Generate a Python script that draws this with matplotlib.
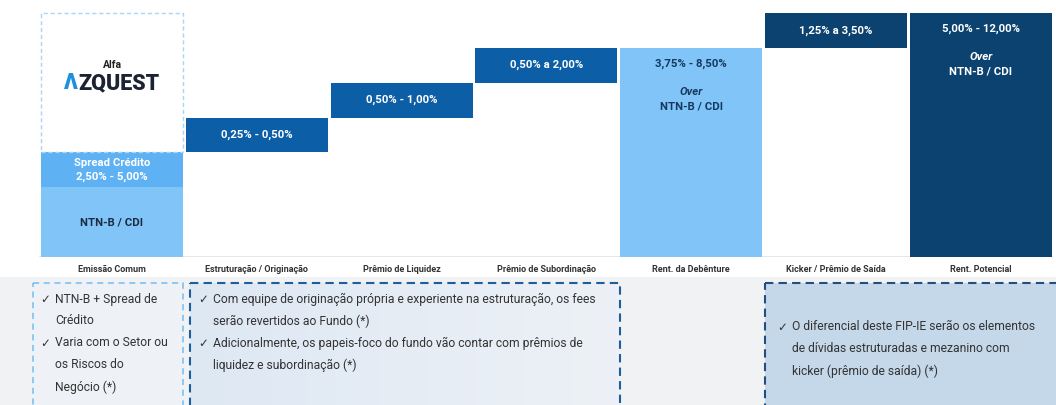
import matplotlib.pyplot as plt
import numpy as np
from matplotlib.patches import Rectangle

plt.rcParams['font.family'] = ['Roboto', 'DejaVu Sans']

# dados
categorias = ['Emissão Comum', 'Estruturação / Originação', 'Prêmio de Liquidez',
              'Prêmio de Subordinação', 'Rent. da Debênture', 'Kicker / Prêmio de Saída',
              'Rent. Potencial']
base = [0, 3, 4, 5, 0, 6, 0]
altura = [2, 1, 1, 1, 6, 1, 7]
spread = 1
rotulos = ['NTN-B / CDI', '0,25% - 0,50%', '0,50% - 1,00%', '0,50% a 2,00%',
           '3,75% - 8,50%', '1,25% a 3,50%', '5,00% - 12,00%']
cores = ['#80c4f8', '#0c5ea6', '#0c5ea6', '#0c5ea6', '#80c4f8', '#0b426f', '#0b426f']

texto_box1 = [(True, 'NTN-B + Spread de'), (False, 'Crédito'), (True, 'Varia com o Setor ou'),
              (False, 'os Riscos do'), (False, 'Negócio (*)')]
texto_box2 = [(True, 'Com equipe de originação própria e experiente na estruturação, os fees'),
              (False, 'serão revertidos ao Fundo (*)'),
              (True, 'Adicionalmente, os papeis-foco do fundo vão contar com prêmios de'),
              (False, 'liquidez e subordinação (*)')]
texto_box3 = [(True, 'O diferencial deste FIP-IE serão os elementos'),
              (False, 'de dívidas estruturadas e mezanino com'),
              (False, 'kicker (prêmio de saída) (*)')]

px = 34.86  # pixels por unidade
fig = plt.figure(figsize=(10.56, 4.05), dpi=100)
ax = fig.add_axes([0, 148/405, 1, 257/405])
x = np.arange(len(categorias))

ax.bar(x, altura, bottom=base, width=0.98, color=cores, zorder=2)
ax.bar(0, spread, bottom=altura[0], width=0.98, color='#5eb1f2', zorder=2)
ax.bar(0, 4, bottom=altura[0] + spread, width=0.98, fill=False, edgecolor='#a9d5f7',
       linestyle=(0, (3, 2)), linewidth=1, zorder=3)
ax.axhline(0, xmin=40/1056, xmax=1052/1056, color='#e3e3e3', lw=1.2, zorder=1)

ax.set_xlim(-112/144.8, (1056-112)/144.8)
ax.set_ylim(0, 257/px)
ax.set_xticks(x, categorias, fontsize=6.5, fontweight='bold', color='#333333')
ax.tick_params(length=0, pad=6)
ax.set_yticks([])
for s in ax.spines.values():
    s.set_visible(False)

bold = dict(ha='center', va='center', fontweight='bold', fontsize=8.2, zorder=4)
# barra 1
ax.text(0, altura[0] / 2, rotulos[0], color='#1d2b40', **bold)
ax.text(0, altura[0] + spread / 2 + 0.2, 'Spread Crédito', color='white', **bold)
ax.text(0, altura[0] + spread / 2 - 0.2, '2,50% - 5,00%', color='white', **bold)
ax.text(0, (257 - 65) / px, 'Alfa', color='#222222', ha='center', va='center',
        fontsize=7.5, fontweight='bold')
ax.text((78 - 112) / 144.8, (257 - 83) / px, 'Λ', color='#1f8fe0', ha='right', va='center',
        fontsize=15.5, fontweight='heavy')
ax.text((78 - 112) / 144.8, (257 - 83) / px, 'ZQUEST', color='#1c2433', ha='left', va='center',
        fontsize=15.5, fontweight='heavy')
# barras intermediarias
for i in [1, 2, 3, 5]:
    ax.text(i, base[i] + altura[i] / 2, rotulos[i], color='white', **bold)
# barras totais
for i, cor in [(4, '#143a60'), (6, 'white')]:
    topo = base[i] + altura[i]
    ax.annotate(rotulos[i], (i, topo), xytext=(0, -16), textcoords='offset pixels', color=cor, **bold)
    ax.annotate('Over', (i, topo), xytext=(0, -44), textcoords='offset pixels', color=cor,
                fontstyle='italic', **bold)
    ax.annotate('NTN-B / CDI', (i, topo), xytext=(0, -59), textcoords='offset pixels', color=cor, **bold)

# painel inferior em pixels
ax2 = fig.add_axes([0, 0, 1, 128/405])
ax2.axis('off')
ax2.add_patch(Rectangle((0, 277), 1056, 130, color='#f1f2f4', zorder=0))

grad = np.linspace(0, 1, 256).reshape(1, -1)
c1 = np.array([0.87, 0.91, 0.955])
c2 = np.array([0.93, 0.945, 0.965])
img = c1[None, None, :] * (1 - grad[..., None]) + c2[None, None, :] * grad[..., None]
ax2.imshow(img, extent=(190, 620, 410, 283), aspect='auto', zorder=1)
ax2.set_xlim(0, 1056)
ax2.set_ylim(405, 277)

ax2.add_patch(Rectangle((33, 283), 150, 130, facecolor='#eef2f7', edgecolor='#72bdf3',
                        lw=1.1, linestyle=(0, (4, 3)), zorder=2))
ax2.add_patch(Rectangle((190, 283), 430, 130, facecolor='none', edgecolor='#1d5f9c',
                        lw=1.5, linestyle=(0, (4, 2.5)), zorder=2))
ax2.add_patch(Rectangle((765, 283), 300, 130, facecolor='#c4d8ea', edgecolor='#234f7c',
                        lw=1.5, linestyle=(0, (4, 2.5)), zorder=2))

def escreve(linhas, x0, y0, passo=22):
    for k, (check, t) in enumerate(linhas):
        y = y0 + k * passo
        if check:
            ax2.text(x0, y, '✓', fontsize=8.5, color='#333333', va='center', zorder=3)
        ax2.text(x0 + 15, y, t, fontsize=8.7, color='#333333', va='center', zorder=3)

escreve(texto_box1, 40, 299)
escreve(texto_box2, 198, 299)
escreve(texto_box3, 777, 327)

fig.savefig('out.png', dpi=100)
